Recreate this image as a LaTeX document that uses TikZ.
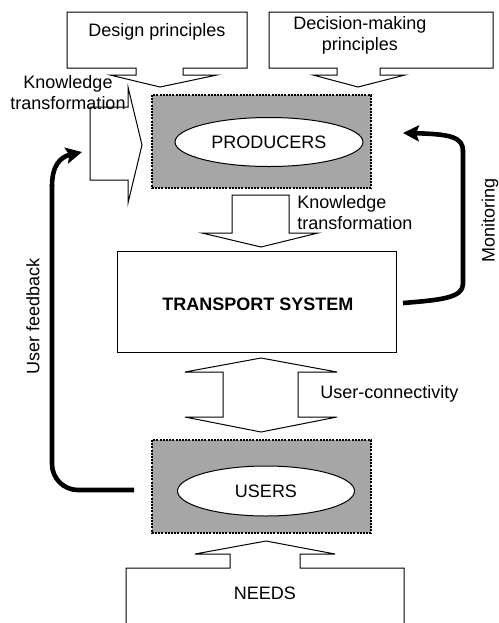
\documentclass[tikz,border=0pt]{standalone}
\usepackage{fontspec}
\setmainfont{Liberation Sans}
\usetikzlibrary{arrows.meta,shapes.geometric}
\begin{document}
\begin{tikzpicture}[x=0.5pt,y=-0.5pt,
  font=\fontsize{9}{10.5}\selectfont,
  outline/.style={draw=black,line width=0.5pt,fill=white,line join=miter},
  dotbox/.style={draw=black,line width=0.6pt,dash pattern=on 1pt off 0.6pt,fill=black!35},
  oval/.style={ellipse,draw=black,line width=0.5pt,fill=white,inner sep=0pt},
  lbl/.style={inner sep=0pt,align=left},
  thickarrow/.style={line width=2.3pt,-{Stealth[length=8pt,width=8pt,inset=1.5pt]}},
  thickline/.style={line width=2.3pt}
]
\useasboundingbox (0,0) rectangle (499,623);

% Design principles box with arrow
\draw[outline] (67,12) -- (247,12) -- (247,68) -- (183,68) -- (183,75) -- (217,75) -- (160,87)
  -- (110,75) -- (136,75) -- (136,68) -- (67,68) -- cycle;
\node[lbl,align=center] (design) at (157,32) {Design principles};

% Decision-making box with arrow
\draw[outline] (269,12) -- (493,12) -- (493,68) -- (380,68) -- (380,75) -- (405,75) -- (358,87)
  -- (313,75) -- (337,75) -- (337,68) -- (269,68) -- cycle;
\node[lbl,align=center] (decision) at (360,35) {Decision-making\\principles};

% Producers
\draw[dotbox] (152,95) rectangle (371,188);
\node[oval,minimum width=94pt,minimum height=24.5pt] (producers) at (269,142) {PRODUCERS};

% Left knowledge transformation arrow
\draw[outline] (90,107) -- (128,107) -- (128,87) -- (142,145) -- (128,203) -- (128,180) -- (90,180) -- cycle;
\node[lbl,align=center] (kt1) at (68,92.5) {Knowledge\\transformation};

% Middle knowledge transformation arrow
\draw[outline] (232,195) -- (289,195) -- (289,233) -- (318,233) -- (261,247) -- (202,233) -- (232,233) -- cycle;
\node[lbl,anchor=west] (kt2) at (297,212.5) {Knowledge\\transformation};

% Transport system
\node[draw=black,line width=0.5pt,fill=white,minimum width=139.5pt,minimum height=50.5pt,inner sep=0pt] (ts) at (256.5,301.5) {};
\node[inner sep=0pt,font=\fontsize{9}{10.5}\selectfont\bfseries] (tstext) at (258,304) {TRANSPORT SYSTEM};

% User-connectivity double arrow
\draw[outline] (261,358) -- (337,372) -- (298,372) -- (298,417) -- (337,417) -- (261,432)
  -- (185,417) -- (223,417) -- (223,372) -- (185,372) -- cycle;
\node[lbl,anchor=west] (uc) at (320,394) {User-connectivity};

% Users
\draw[dotbox] (152,440) rectangle (371,533);
\node[oval,minimum width=88.5pt,minimum height=25pt] (users) at (266,491) {USERS};

% Needs box with arrow
\draw[outline] (126,623) -- (126,568) -- (230,568) -- (230,554) -- (195,554) -- (266,541)
  -- (335,554) -- (300,554) -- (300,568) -- (404,568) -- (404,623);
\node[lbl] (needs) at (265,593) {NEEDS};

% User feedback arrow
\coordinate (ufstart) at (134,490);
\coordinate (ufend) at (82,152);
\draw[thickline,rounded corners=13pt] (ufstart) -- (52,490) -- (52,185);
\draw[thickarrow] (52,186) .. controls (52,166) and (60,157) .. (ufend);
\node[lbl,rotate=90] (uf) at (33,316) {User feedback};

% Monitoring arrow
\coordinate (mstart) at (403,303);
\coordinate (mend) at (403,133);
\draw[thickline] (mstart) .. controls (440,300) and (463,298) .. (463,284) -- (463,150);
\draw[thickarrow] (463,151) .. controls (463,137) and (450,134) .. (mend);
\node[lbl,rotate=90] (mon) at (490,220) {Monitoring};
\end{tikzpicture}
\end{document}
